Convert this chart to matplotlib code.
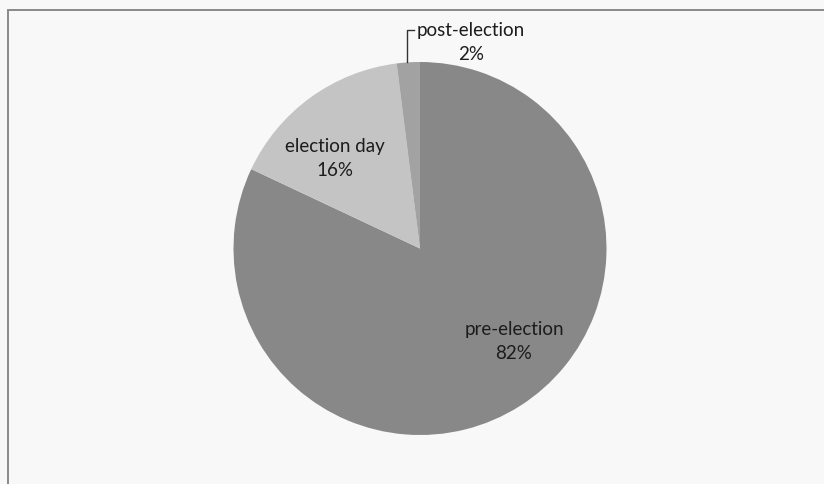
import matplotlib
matplotlib.use("Agg")
import matplotlib.pyplot as plt
from matplotlib.patches import Rectangle

categories = ["pre-election", "election day", "post-election"]
shares = [82, 16, 2]
pct_labels = ["82%", "16%", "2%"]
colors = ["#888888", "#c4c4c4", "#a2a2a2"]

W, H = 824, 484
fig = plt.figure(figsize=(W / 100, H / 100), dpi=100)
fig.patch.set_facecolor("#f8f8f8")
ax = fig.add_axes([0, 0, 1, 1])

# frame of the chart area (continues beyond right/bottom of the scan)
ax.add_patch(Rectangle((8, -20), W + 20, H - 10 + 20, fill=False,
                       edgecolor="#8a8a8a", linewidth=1.4))

cx, cy, r = 420, H - 248.5, 186.5
ax.pie(shares, colors=colors, startangle=90, counterclock=False,
       center=(cx, cy), radius=r, wedgeprops=dict(linewidth=0),
       frame=True)
ax.set_xlim(0, W)
ax.set_ylim(0, H)
ax.set_aspect("equal")
ax.axis("off")

font = dict(family=["Lato", "DejaVu Sans"], fontsize=13.5, color="#1c1c1c",
            ha="center", va="center", linespacing=1.55)
ax.text(514, H - 341.5, categories[0] + "\n" + pct_labels[0], **font)
ax.text(335, H - 158.5, categories[1] + "\n" + pct_labels[1], **font)
ax.text(471, H - 42.5, categories[2] + "\n" + pct_labels[2], **font)

# leader line for post-election
ax.plot([414, 407.5, 407.5], [H - 30, H - 30, H - 62], color="#333333",
        linewidth=1.0)

fig.savefig("out.png", dpi=100, facecolor=fig.get_facecolor())
